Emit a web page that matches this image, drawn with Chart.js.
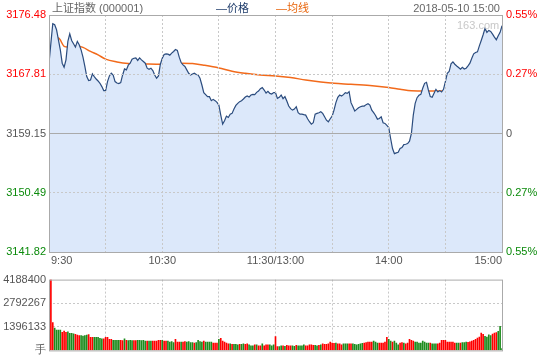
<!DOCTYPE html>
<html>
<head>
<meta charset="utf-8">
<script src="https://cdn.jsdelivr.net/npm/chart.js@4.4.1/dist/chart.umd.min.js"></script>
<style>
body { margin: 0; background: #fff; }
#wrap { position: relative; width: 540px; height: 360px; font-family: Arial, "Liberation Sans", "Noto Sans CJK SC", sans-serif; font-size: 11px; }
#mainChart { position: absolute; left: 0; top: 0; }
#volChart { position: absolute; left: 0; top: 270px; }
.t { position: absolute; line-height: 14px; white-space: nowrap; }
</style>
</head>
<body>
<div id="wrap">
  <canvas id="mainChart" width="540" height="270"></canvas>
  <canvas id="volChart" width="540" height="90"></canvas>
  <div class="t" style="left:52px;top:1px;color:#666">上证指数 (000001)</div>
  <div class="t" style="left:216px;top:1px;color:#1f3c6b">—价格</div>
  <div class="t" style="left:276px;top:1px;color:#e8650c">—均线</div>
  <div class="t" style="right:40px;top:1px;color:#666">2018-05-10 15:00</div>
  <div class="t" style="left:457px;top:18px;color:#c8c8c8">163.com</div>
</div>
<script>
// data
var prevClose = 3159.15;
var priceTicks = [3141.82, 3150.49, 3159.15, 3167.81, 3176.48];
var timeLabels = ['9:30', '10:30', '11:30/13:00', '14:00', '15:00'];
var timeTickMinutes = [0, 60, 120, 180, 240];
var volTicks = [0, 1396133, 2792267, 4188400];

// one price per minute, 9:30 .. 11:30, 13:01 .. 15:00
var prices = [
  3169.43, 3172.37, 3175.20, 3175.06, 3174.32, 3172.85, 3171.38, 3169.43, 3168.84, 3169.92,
  3172.62, 3173.73, 3172.76, 3172.27, 3171.78, 3172.62, 3172.12, 3171.38, 3170.31, 3168.95,
  3167.48, 3166.89, 3166.98, 3167.86, 3167.48, 3167.12, 3166.83, 3166.49, 3166.01, 3165.42,
  3165.42, 3166.74, 3167.57, 3167.96, 3167.71, 3166.74, 3166.54, 3166.45, 3166.60, 3167.71,
  3168.59, 3168.45, 3169.14, 3169.43, 3170.02, 3170.16, 3170.21, 3169.83, 3170.21, 3169.92,
  3169.68, 3169.43, 3168.70, 3168.55, 3168.70, 3168.36, 3167.71, 3167.23, 3167.57, 3169.28,
  3170.16, 3170.71, 3170.80, 3170.75, 3170.61, 3170.90, 3171.15, 3171.44, 3171.30, 3170.31,
  3169.53, 3169.18, 3168.95, 3168.45, 3167.96, 3167.71, 3167.86, 3167.96, 3167.77, 3167.71,
  3167.23, 3166.24, 3165.13, 3164.83, 3164.54, 3164.54, 3163.95, 3164.14, 3163.95, 3163.70,
  3163.31, 3161.84, 3160.52, 3161.02, 3161.69, 3161.50, 3161.98, 3162.09, 3162.72, 3163.26,
  3163.56, 3163.81, 3163.95, 3164.19, 3164.48, 3164.63, 3164.48, 3164.78, 3164.88, 3164.83,
  3165.17, 3165.36, 3165.71, 3165.86, 3165.51, 3165.07, 3165.32, 3165.02, 3164.92, 3165.13,
  3165.13, 3164.29, 3164.44, 3164.78, 3164.25, 3164.54, 3163.89, 3163.16, 3162.78, 3162.57,
  3162.72, 3163.07, 3162.19, 3161.98, 3161.98, 3161.90, 3161.84, 3161.31, 3160.87, 3160.52,
  3160.72, 3161.98, 3162.09, 3162.19, 3162.34, 3162.09, 3161.60, 3161.10, 3160.87, 3161.31,
  3161.69, 3162.57, 3163.66, 3164.44, 3164.78, 3164.63, 3164.83, 3165.13, 3165.02, 3165.27,
  3163.66, 3163.07, 3162.43, 3162.68, 3162.92, 3163.07, 3163.16, 3163.16, 3163.37, 3163.51,
  3163.31, 3162.57, 3162.19, 3161.79, 3161.25, 3161.35, 3161.60, 3160.72, 3160.62, 3160.33,
  3160.03, 3158.42, 3156.95, 3156.21, 3156.32, 3156.40, 3156.95, 3157.09, 3157.53, 3157.58,
  3157.68, 3158.02, 3159.15, 3161.84, 3163.56, 3164.39, 3164.73, 3164.88, 3165.76, 3166.49,
  3166.64, 3165.51, 3164.54, 3164.44, 3165.02, 3165.61, 3165.22, 3165.42, 3165.22, 3165.61,
  3166.74, 3167.96, 3168.21, 3169.33, 3169.62, 3169.28, 3169.03, 3168.80, 3168.55, 3168.84,
  3168.59, 3168.70, 3169.03, 3169.43, 3170.16, 3170.80, 3171.00, 3171.09, 3171.97, 3172.76,
  3173.59, 3174.53, 3173.94, 3174.23, 3174.09, 3173.69, 3173.25, 3172.85, 3173.44, 3173.94,
  3174.91
];

// average line, read at these minutes
var avgMinutes = [0, 3, 5, 8, 10, 14, 18, 22, 26, 30, 36, 42, 50, 60, 70, 76, 82, 90, 97, 104,
  112, 120, 128, 136, 144, 151, 160, 170, 180, 186, 192, 200, 210, 220, 230, 240];
var avgValues = [3169.43, 3172.37, 3173.10, 3171.90, 3171.80, 3171.93, 3171.74, 3171.15, 3170.65, 3170.02,
  3169.62, 3169.39, 3169.33, 3169.28, 3169.43, 3169.39, 3169.14, 3168.74, 3168.26, 3167.96,
  3167.71, 3167.57, 3167.33, 3166.98, 3166.69, 3166.49, 3166.35, 3166.16, 3165.86, 3165.61,
  3165.39, 3165.35, 3165.36, 3165.57, 3165.80, 3166.01];

// volume per minute (手)
var volumes = [
  1095000, 4188400, 1643000, 1314000, 1205000, 1205000, 1205000, 1068000, 1150000, 1068000,
  1095000, 1013000, 1013000, 986000, 958000, 903000, 876000, 876000, 849000, 876000,
  903000, 931000, 767000, 767000, 767000, 767000, 767000, 712000, 684000, 684000,
  767000, 767000, 657000, 657000, 602000, 602000, 602000, 602000, 602000, 575000,
  684000, 602000, 575000, 602000, 575000, 575000, 575000, 602000, 602000, 575000,
  602000, 548000, 548000, 548000, 548000, 548000, 548000, 548000, 602000, 602000,
  602000, 548000, 548000, 548000, 493000, 520000, 465000, 657000, 493000, 493000,
  493000, 493000, 520000, 493000, 520000, 465000, 465000, 438000, 465000, 602000,
  520000, 493000, 548000, 493000, 493000, 493000, 493000, 438000, 438000, 438000,
  657000, 712000, 548000, 493000, 438000, 383000, 383000, 356000, 356000, 356000,
  329000, 356000, 356000, 383000, 356000, 383000, 329000, 274000, 274000, 329000,
  329000, 274000, 274000, 383000, 274000, 329000, 329000, 329000, 274000, 329000,
  821000, 219000, 219000, 274000, 274000, 246000, 301000, 274000, 274000, 274000,
  246000, 301000, 274000, 274000, 274000, 329000, 274000, 274000, 329000, 329000,
  301000, 301000, 274000, 301000, 329000, 383000, 356000, 356000, 383000, 493000,
  438000, 411000, 438000, 383000, 383000, 329000, 383000, 383000, 383000, 383000,
  383000, 383000, 356000, 329000, 356000, 383000, 411000, 438000, 465000, 493000,
  493000, 493000, 548000, 493000, 438000, 438000, 438000, 438000, 493000, 767000,
  657000, 548000, 493000, 548000, 438000, 329000, 438000, 465000, 438000, 383000,
  438000, 657000, 602000, 548000, 493000, 493000, 438000, 438000, 548000, 493000,
  438000, 438000, 438000, 383000, 383000, 383000, 383000, 438000, 602000, 602000,
  602000, 493000, 493000, 493000, 493000, 438000, 438000, 438000, 438000, 465000,
  465000, 493000, 476000, 509000, 548000, 602000, 657000, 728000, 783000, 1024000,
  947000, 838000, 783000, 914000, 876000, 969000, 1024000, 1057000, 1133000, 1424000,
  110000
];
// r = up minute, g = down minute
var volDirs =
  'rrrggggrrrggggrrrggggrrrgggggrrrrrggggrrgrggg' +
  'rrgggggrggrrrrrgrrggggrrrgrrggggrggggrggggrrr' +
  'grrrrrgrgggrggrrgggrgrrgrrrgggrrggrgrrrggrggg' +
  'grrrrrggrgrrrrrrrgrrrgggrrggggggrrrrrgggrrrrr' +
  'ggrgggrrgrrrrrggggggggrgggrrrrrrrrrrggrgggrrrrr' +
  'r';

Chart.defaults.font.family = 'Arial, "Liberation Sans", sans-serif';
Chart.defaults.font.size = 11;

function levelColor(v) {
  if (v > prevClose + 0.001) return '#ff0000';
  if (v < prevClose - 0.001) return '#0a8a0a';
  return '#555';
}

function edgeGrid(lo, hi) {
  return function (ctx) {
    if (!ctx.tick) return '#c8c8c8';
    var v = ctx.tick.value;
    if (Math.abs(v - lo) < 1e-6 || Math.abs(v - hi) < 1e-6) return 'rgba(0,0,0,0)';
    return '#c8c8c8';
  };
}

var framePlugin = {
  id: 'frame',
  afterDraw: function (chart) {
    var a = chart.chartArea, c = chart.ctx;
    c.save();
    c.strokeStyle = '#aaa';
    c.lineWidth = 1;
    c.strokeRect(a.left + 0.5, a.top + 0.5, a.right - a.left, a.bottom - a.top);
    c.restore();
  }
};

var timeLabelPlugin = {
  id: 'timeLabels',
  afterDraw: function (chart) {
    var xs = chart.scales.x, c = chart.ctx;
    c.save();
    c.font = '11px Arial, "Liberation Sans", sans-serif';
    c.fillStyle = '#555';
    c.textBaseline = 'middle';
    timeTickMinutes.forEach(function (m, i) {
      var px = xs.getPixelForValue(m);
      if (i === 0) { c.textAlign = 'left'; px += 2; }
      else if (i === timeTickMinutes.length - 1) c.textAlign = 'right';
      else c.textAlign = 'center';
      c.fillText(timeLabels[i], px, 261);
    });
    c.restore();
  }
};

var pMin = priceTicks[0], pMax = priceTicks[priceTicks.length - 1];

new Chart(document.getElementById('mainChart'), {
  type: 'line',
  data: {
    datasets: [
      {
        data: prices.map(function (p, i) { return { x: i, y: p }; }),
        borderColor: '#2b4c7e',
        borderWidth: 1.2,
        pointRadius: 0,
        tension: 0,
        fill: 'start',
        backgroundColor: '#dce8fa'
      },
      {
        data: avgMinutes.map(function (m, i) { return { x: m, y: avgValues[i] }; }),
        borderColor: '#f26a1b',
        borderWidth: 1.5,
        pointRadius: 0,
        cubicInterpolationMode: 'monotone',
        fill: false
      }
    ]
  },
  options: {
    responsive: false,
    animation: false,
    devicePixelRatio: 1,
    layout: { padding: { top: 15, bottom: 18, left: 0, right: 0 } },
    plugins: { legend: { display: false }, tooltip: { enabled: false } },
    scales: {
      x: {
        type: 'linear', min: 0, max: 240,
        ticks: { display: false, stepSize: 30 },
        grid: { z: 1, drawTicks: false, color: edgeGrid(0, 240) },
        border: { display: false, dash: [2, 2] }
      },
      y: {
        position: 'left', min: pMin, max: pMax,
        afterBuildTicks: function (s) { s.ticks = priceTicks.map(function (v) { return { value: v }; }); },
        afterFit: function (s) { s.width = 49; },
        ticks: {
          padding: 3,
          color: function (ctx) { return levelColor(ctx.tick.value); },
          callback: function (v) { return v.toFixed(2); }
        },
        grid: {
          z: 1,
          drawTicks: false,
          color: function (ctx) {
            if (!ctx.tick) return '#c8c8c8';
            var v = ctx.tick.value;
            if (v === pMin || v === pMax) return 'rgba(0,0,0,0)';
            if (v === prevClose) return '#aaa';
            return '#c8c8c8';
          }
        },
        border: {
          display: false,
          dash: function (ctx) { return (ctx.tick && ctx.tick.value === prevClose) ? [] : [2, 2]; }
        }
      },
      yr: {
        position: 'right', min: pMin, max: pMax,
        afterBuildTicks: function (s) { s.ticks = priceTicks.map(function (v) { return { value: v }; }); },
        afterFit: function (s) { s.width = 38; },
        ticks: {
          padding: 4,
          color: function (ctx) { return levelColor(ctx.tick.value); },
          callback: function (v) {
            var pct = Math.abs((v - prevClose) / prevClose * 100);
            return pct < 0.005 ? '0' : pct.toFixed(2) + '%';
          }
        },
        grid: { display: false, drawTicks: false },
        border: { display: false }
      }
    }
  },
  plugins: [framePlugin, timeLabelPlugin]
});

var volColors = volDirs.split('').map(function (d) { return d === 'r' ? '#ff0000' : '#1e8c1e'; });

new Chart(document.getElementById('volChart'), {
  type: 'bar',
  data: {
    datasets: [{
      data: volumes.map(function (v, i) { return { x: i, y: v }; }),
      backgroundColor: volColors,
      barThickness: 1
    }]
  },
  options: {
    responsive: false,
    animation: false,
    devicePixelRatio: 1,
    layout: { padding: { top: 4, bottom: 9, left: 0, right: 38 } },
    plugins: { legend: { display: false }, tooltip: { enabled: false } },
    scales: {
      x: {
        type: 'linear', min: 0, max: 240, offset: false,
        ticks: { display: false, stepSize: 30 },
        grid: { drawTicks: false, offset: false, color: edgeGrid(0, 240) },
        border: { display: false, dash: [2, 2] }
      },
      y: {
        min: 0, max: volTicks[volTicks.length - 1],
        afterBuildTicks: function (s) { s.ticks = volTicks.map(function (v) { return { value: v }; }); },
        afterFit: function (s) { s.width = 49; },
        ticks: {
          padding: 3,
          color: '#555',
          callback: function (v) { return v === 0 ? '手' : String(v); }
        },
        grid: { drawTicks: false, color: edgeGrid(0, volTicks[volTicks.length - 1]) },
        border: { display: false, dash: [2, 2] }
      }
    }
  },
  plugins: [framePlugin]
});
</script>
</body>
</html>
